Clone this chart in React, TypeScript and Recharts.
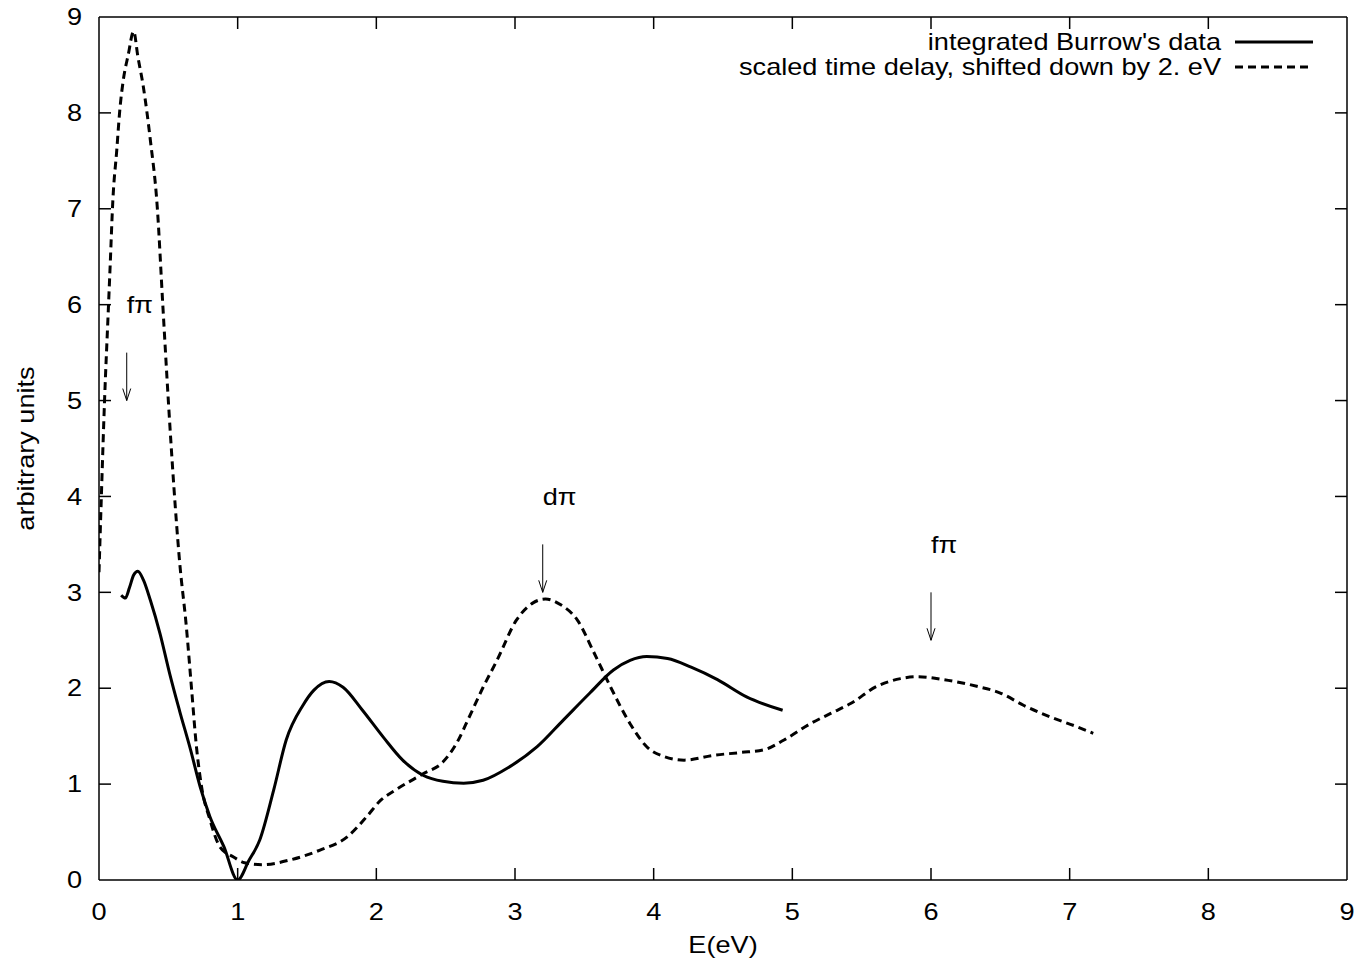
import React from 'react';
import { LineChart, Line, XAxis, YAxis, ReferenceLine, ReferenceDot, Label, Legend } from 'recharts';

const FONT = '"Liberation Sans", Arial, Helvetica, sans-serif';
const FS = 23;
const SX = 1.18; // reference glyphs are wider than Liberation Sans

// integrated Burrow's data (solid)
const burrowE = [0.16, 0.19, 0.22, 0.25, 0.28, 0.32, 0.37, 0.44, 0.51, 0.58, 0.66, 0.73, 0.8, 0.9, 1.0, 1.08, 1.16, 1.26, 1.35, 1.47, 1.55, 1.66, 1.76, 1.9, 2.05, 2.19, 2.34, 2.48, 2.63, 2.77, 2.96, 3.16, 3.35, 3.54, 3.71, 3.83, 3.95, 4.1, 4.27, 4.46, 4.67, 4.93];
const burrowV = [2.97, 2.94, 3.05, 3.18, 3.22, 3.13, 2.92, 2.57, 2.15, 1.77, 1.36, 0.97, 0.66, 0.35, 0.0, 0.2, 0.42, 0.94, 1.46, 1.82, 1.98, 2.07, 2.01, 1.77, 1.49, 1.25, 1.09, 1.03, 1.01, 1.04, 1.18, 1.39, 1.67, 1.95, 2.19, 2.29, 2.33, 2.31, 2.22, 2.09, 1.91, 1.77];

// scaled time delay, shifted down by 2 eV (dashed)
const delayE = [0, 0.017, 0.04, 0.067, 0.08, 0.1, 0.128, 0.15, 0.175, 0.21, 0.25, 0.28, 0.32, 0.37, 0.42, 0.46, 0.5, 0.54, 0.58, 0.63, 0.67, 0.7, 0.74, 0.8, 0.87, 0.97, 1.05, 1.18, 1.38, 1.59, 1.79, 1.93, 2.03, 2.14, 2.34, 2.48, 2.58, 2.67, 2.77, 2.87, 3.01, 3.13, 3.22, 3.33, 3.45, 3.57, 3.69, 3.83, 3.95, 4.07, 4.22, 4.43, 4.63, 4.8, 4.94, 5.13, 5.28, 5.42, 5.61, 5.78, 5.9, 6.09, 6.33, 6.5, 6.67, 6.86, 7.05, 7.17];
const delayV = [3.21, 4.0, 5.0, 5.94, 6.39, 7.09, 7.61, 8.03, 8.34, 8.6, 8.85, 8.59, 8.27, 7.72, 7.02, 6.0, 5.0, 4.1, 3.34, 2.64, 1.95, 1.43, 0.97, 0.63, 0.35, 0.24, 0.18, 0.16, 0.21, 0.31, 0.45, 0.66, 0.83, 0.94, 1.11, 1.23, 1.43, 1.7, 2.01, 2.29, 2.71, 2.89, 2.93, 2.87, 2.71, 2.37, 2.01, 1.63, 1.39, 1.29, 1.25, 1.3, 1.33, 1.36, 1.46, 1.63, 1.74, 1.84, 2.02, 2.1, 2.12, 2.09, 2.02, 1.95, 1.82, 1.7, 1.6, 1.53];

const xTicks = [0, 1, 2, 3, 4, 5, 6, 7, 8, 9];
const yTicks = [0, 1, 2, 3, 4, 5, 6, 7, 8, 9];
const X_MIN = 0;
const X_MAX = 9;
const Y_MIN = 0;
const Y_MAX = 9;
// inward tick length, in data units (~12 px)
const TICK_LEN_X = 0.0865;
const TICK_LEN_Y = 0.125;

// annotations
const annX = [0.2, 3.2, 6.0];
const annText = ['fπ', 'dπ', 'fπ'];
const annLabelY = [6.0, 4.0, 3.5];
const annArrowTop = [5.5, 3.5, 3.0];
const annArrowBottom = [5.0, 3.0, 2.5];

const seriesNames = ["integrated Burrow's data", 'scaled time delay, shifted down by 2. eV'];

const burrowData = burrowE.map((e, i) => ({ e, v: burrowV[i] }));
const delayData = delayE.map((e, i) => ({ e, v: delayV[i] }));

const DASH = '8 5';

const WideText = ({ x, y, anchor = 'start', rotate = 0, children }: any) => (
  <text
    transform={`translate(${x},${y}) rotate(${rotate}) scale(${SX},1)`}
    x={0}
    y={0}
    textAnchor={anchor}
    dominantBaseline="central"
    fontFamily={FONT}
    fontSize={FS}
    fill="#000"
  >
    {children}
  </text>
);

const ArrowShape = (props: any) => {
  const { x1, y1, x2, y2 } = props;
  const len = 12;
  const hw = 4;
  return (
    <g stroke="#000" strokeWidth={1} fill="none">
      <line x1={x1} y1={y1} x2={x2} y2={y2} />
      <line x1={x2 - hw} y1={y2 - len} x2={x2} y2={y2} />
      <line x1={x2 + hw} y1={y2 - len} x2={x2} y2={y2} />
    </g>
  );
};

const makeTextShape = (txt: string) => (props: any) => (
  <WideText x={props.cx} y={props.cy} anchor="start">{txt}</WideText>
);

const renderLegend = () => (
  <svg width={1372} height={90} style={{ display: 'block' }}>
    <WideText x={1221} y={42} anchor="end">{seriesNames[0]}</WideText>
    <line x1={1235} y1={42} x2={1313} y2={42} stroke="#000" strokeWidth={3} />
    <WideText x={1221} y={67} anchor="end">{seriesNames[1]}</WideText>
    <line x1={1235} y1={67} x2={1313} y2={67} stroke="#000" strokeWidth={3} strokeDasharray={DASH} />
  </svg>
);

const renderYLabel = (p: any) => {
  const vb = p.viewBox || {};
  return (
    <WideText x={(vb.x || 0) + 26} y={(vb.y || 0) + (vb.height || 0) / 2} anchor="middle" rotate={-90}>
      arbitrary units
    </WideText>
  );
};

const renderXLabel = (p: any) => {
  const vb = p.viewBox || {};
  return (
    <WideText x={(vb.x || 0) + (vb.width || 0) / 2} y={(vb.y || 0) + 65} anchor="middle">
      E(eV)
    </WideText>
  );
};

const XTick = (props: any) => (
  <WideText x={props.x} y={props.y + 32} anchor="middle">{props.payload.value}</WideText>
);
const YTick = (props: any) => (
  <WideText x={props.x - 17} y={props.y} anchor="end">{props.payload.value}</WideText>
);

export default function App() {
  const innerX = xTicks.filter((t) => t > X_MIN && t < X_MAX);
  const innerY = yTicks.filter((t) => t > Y_MIN && t < Y_MAX);
  return (
    <div style={{ position: 'absolute', left: 0, top: 0, width: 1372, height: 972, background: '#fff' }}>
      <LineChart width={1372} height={972} margin={{ top: 17, right: 25, bottom: 0, left: 0 }}>
        <XAxis
          xAxisId="b"
          dataKey="e"
          type="number"
          orientation="bottom"
          domain={[X_MIN, X_MAX]}
          ticks={xTicks}
          interval={0}
          allowDataOverflow
          height={92}
          tickSize={0}
          tickMargin={0}
          tickLine={false}
          stroke="#000"
          strokeWidth={1.5}
          tick={XTick}
        >
          <Label content={renderXLabel} />
        </XAxis>
        <YAxis
          yAxisId="l"
          type="number"
          orientation="left"
          domain={[Y_MIN, Y_MAX]}
          ticks={yTicks}
          interval={0}
          allowDataOverflow
          width={99}
          tickSize={0}
          tickMargin={0}
          tickLine={false}
          stroke="#000"
          strokeWidth={1.5}
          tick={YTick}
        >
          <Label content={renderYLabel} />
        </YAxis>
        <Legend
          layout="horizontal"
          verticalAlign="middle"
          align="center"
          content={renderLegend}
          wrapperStyle={{ position: 'absolute', left: 0, top: 0, width: 1372, height: 90 }}
        />
        {/* frame: top and right borders */}
        <ReferenceLine xAxisId="b" yAxisId="l" y={Y_MAX} stroke="#000" strokeWidth={1.5} ifOverflow="visible" />
        <ReferenceLine xAxisId="b" yAxisId="l" x={X_MAX} stroke="#000" strokeWidth={1.5} ifOverflow="visible" />
        {/* inward ticks on all four sides */}
        {innerX.map((t) => (
          <ReferenceLine key={`xb-${t}`} xAxisId="b" yAxisId="l" segment={[{ x: t, y: Y_MIN }, { x: t, y: Y_MIN + TICK_LEN_Y }]} stroke="#000" strokeWidth={1.5} ifOverflow="visible" />
        ))}
        {innerX.map((t) => (
          <ReferenceLine key={`xt-${t}`} xAxisId="b" yAxisId="l" segment={[{ x: t, y: Y_MAX }, { x: t, y: Y_MAX - TICK_LEN_Y }]} stroke="#000" strokeWidth={1.5} ifOverflow="visible" />
        ))}
        {innerY.map((t) => (
          <ReferenceLine key={`yl-${t}`} xAxisId="b" yAxisId="l" segment={[{ x: X_MIN, y: t }, { x: X_MIN + TICK_LEN_X, y: t }]} stroke="#000" strokeWidth={1.5} ifOverflow="visible" />
        ))}
        {innerY.map((t) => (
          <ReferenceLine key={`yr-${t}`} xAxisId="b" yAxisId="l" segment={[{ x: X_MAX, y: t }, { x: X_MAX - TICK_LEN_X, y: t }]} stroke="#000" strokeWidth={1.5} ifOverflow="visible" />
        ))}
        <Line
          xAxisId="b"
          yAxisId="l"
          data={burrowData}
          dataKey="v"
          name={seriesNames[0]}
          type="monotone"
          stroke="#000"
          strokeWidth={3}
          dot={false}
          activeDot={false}
          isAnimationActive={false}
        />
        <Line
          xAxisId="b"
          yAxisId="l"
          data={delayData}
          dataKey="v"
          name={seriesNames[1]}
          type="monotone"
          stroke="#000"
          strokeWidth={3}
          strokeDasharray={DASH}
          dot={false}
          activeDot={false}
          isAnimationActive={false}
        />
        {annX.map((x, i) => (
          <ReferenceLine
            key={`arrow-${i}`}
            xAxisId="b"
            yAxisId="l"
            segment={[{ x, y: annArrowTop[i] }, { x, y: annArrowBottom[i] }]}
            shape={ArrowShape}
            ifOverflow="visible"
          />
        ))}
        {annX.map((x, i) => (
          <ReferenceDot
            key={`label-${i}`}
            xAxisId="b"
            yAxisId="l"
            x={x}
            y={annLabelY[i]}
            r={0}
            shape={makeTextShape(annText[i])}
            ifOverflow="visible"
          />
        ))}
      </LineChart>
    </div>
  );
}
